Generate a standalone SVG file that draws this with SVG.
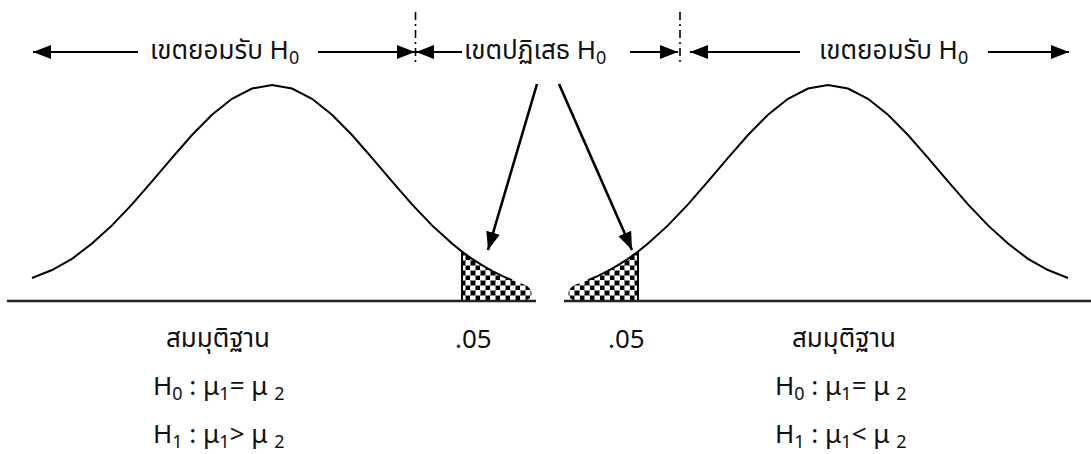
<svg xmlns="http://www.w3.org/2000/svg" width="1091" height="454" viewBox="0 0 1091 454">
<style>
.t{font-family:"Noto Sans Thai","Noto Sans","DejaVu Sans",sans-serif;fill:#111}
.top{font-size:26px}
.bot{font-size:26px}
.curve{fill:none;stroke:#000;stroke-width:2}
.base{stroke:#222;stroke-width:2.6}
.conn{stroke:#000;stroke-width:2;fill:none}
.thick{stroke:#000;stroke-width:2.6;fill:none}
.dash{stroke:#000;stroke-width:1.6;stroke-dasharray:8 4 2 4}
</style>
<defs>
<pattern id="dots" width="10" height="10" patternUnits="userSpaceOnUse">
<rect width="10" height="10" fill="#fff"/>
<rect x="0" y="0" width="6" height="6" fill="#888"/>
<rect x="5" y="5" width="6" height="6" fill="#888"/>
<rect x="1" y="1" width="4" height="4" fill="#000"/>
<rect x="6" y="6" width="4" height="4" fill="#000"/>
</pattern>
<marker id="ah" viewBox="0 0 18 14" refX="18" refY="7" markerWidth="18" markerHeight="14" markerUnits="userSpaceOnUse" orient="auto">
<path d="M0,0 L18,7 L0,14 Z" fill="#000"/>
</marker>
<marker id="ah2" viewBox="0 0 18 14" refX="18" refY="7" markerWidth="18" markerHeight="14" markerUnits="userSpaceOnUse" orient="auto">
<path d="M0,0 L18,7 L0,14 Z" fill="#000"/>
</marker>
<g id="dist">
<path d="M462,251.6 L472,258.8 L482,265.2 L492,270.9 L502,275.8 L512,280.1 L522,283.7 C532,286 535,297 527,300 L462,300 Z" fill="url(#dots)"/>
<polyline class="curve" points="32,278 52,270 72,258.8 92,243.6 112,225.4 132,204.4 152,181.4 172,157.8 192,135 212,114.7 232,98.8 252,88.5 272,85 292,88.5 312,98.8 332,114.7 352,135 372,157.8 392,181.4 412,204.4 432,225.4 452,243.6 462,251.6 472,258.8 482,265.2 492,270.9 502,275.8 512,280.1"/>
<line class="conn" x1="462" y1="251" x2="462" y2="300"/>
<line class="base" x1="7" y1="301" x2="536" y2="301"/>
</g>
</defs>
<g id="left-distribution">
<use href="#dist"/>
</g>
<g id="right-distribution">
<use href="#dist" transform="matrix(-1 0 0 1 1100 0)"/>
</g>
<g id="connectors">
<line class="dash" x1="415.5" y1="12" x2="415.5" y2="64"/>
<line class="dash" x1="680" y1="12" x2="680" y2="64"/>
<line class="conn" x1="138" y1="52" x2="33" y2="52" marker-end="url(#ah)"/>
<line class="conn" x1="318" y1="52" x2="415" y2="52" marker-end="url(#ah)"/>
<line class="conn" x1="462" y1="52" x2="416" y2="52" marker-end="url(#ah)"/>
<line class="conn" x1="630" y1="52" x2="678" y2="52" marker-end="url(#ah)"/>
<line class="conn" x1="800" y1="52" x2="690" y2="52" marker-end="url(#ah)"/>
<line class="conn" x1="988" y1="52" x2="1069" y2="52" marker-end="url(#ah)"/>
<line class="thick" x1="537" y1="84" x2="488" y2="250" marker-end="url(#ah2)"/>
<line class="thick" x1="559" y1="84" x2="632" y2="250" marker-end="url(#ah2)"/>
</g>
<g id="top-labels" class="t top">
<text x="150" y="59">เขตยอมรับ H<tspan font-size="18" dy="5">0</tspan></text>
<text x="464" y="59">เขตปฏิเสธ H<tspan font-size="18" dy="5">0</tspan></text>
<text x="819" y="59">เขตยอมรับ H<tspan font-size="18" dy="5">0</tspan></text>
</g>
<g id="left-labels" class="t bot">
<text x="455" y="348">.05</text>
<text x="166" y="347">สมมุติฐาน</text>
<text x="153" y="395">H<tspan font-size="18" dy="5">0</tspan><tspan dy="-5"> : μ</tspan><tspan font-size="18" dy="5">1</tspan><tspan dy="-5">= μ </tspan><tspan font-size="18" dy="5">2</tspan></text>
<text x="153" y="443">H<tspan font-size="18" dy="5">1</tspan><tspan dy="-5"> : μ</tspan><tspan font-size="18" dy="5">1</tspan><tspan dy="-5">&gt; μ </tspan><tspan font-size="18" dy="5">2</tspan></text>
</g>
<g id="right-labels" class="t bot">
<text x="608" y="348">.05</text>
<text x="792" y="347">สมมุติฐาน</text>
<text x="775" y="395">H<tspan font-size="18" dy="5">0</tspan><tspan dy="-5"> : μ</tspan><tspan font-size="18" dy="5">1</tspan><tspan dy="-5">= μ </tspan><tspan font-size="18" dy="5">2</tspan></text>
<text x="775" y="443">H<tspan font-size="18" dy="5">1</tspan><tspan dy="-5"> : μ</tspan><tspan font-size="18" dy="5">1</tspan><tspan dy="-5">&lt; μ </tspan><tspan font-size="18" dy="5">2</tspan></text>
</g>
</svg>
